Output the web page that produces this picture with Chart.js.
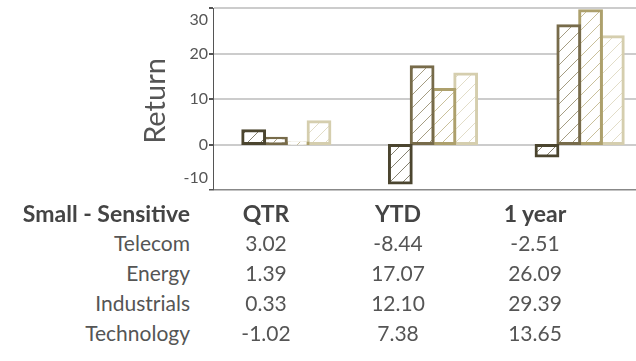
<!DOCTYPE html>
<html>
<head>
<meta charset="utf-8">
<script src="https://cdn.jsdelivr.net/npm/chart.js@4"></script>
<style>
  html, body { margin: 0; padding: 0; background: #fff; width: 636px; height: 361px; overflow: hidden; }
  #wrap { position: absolute; left: 0; top: 0; width: 660px; height: 200px; }
  .cell { position: absolute; height: 30px; line-height: 30px; font-family: Lato, "Open Sans", sans-serif; font-size: 21px; color: #555; white-space: nowrap; }
  .head { font-weight: bold; color: #444; font-size: 23px; }
</style>
</head>
<body>
<div id="wrap"><canvas id="chart"></canvas></div>
<div id="table"></div>
<script>
// Return by period for the Small - Sensitive sectors
const categories = ['QTR', 'YTD', '1 year'];
const telecom = [3.02, -8.44, -2.51];
const energy = [1.39, 17.07, 26.09];
const industrials = [0.33, 12.10, 29.39];
const benchmark = [5.0, 15.5, 23.7];
const technology = [-1.02, 7.38, 13.65];
const yTicks = [-10, 0, 10, 20, 30];
const tableTitle = 'Small - Sensitive';
const rowLabels = ['Telecom', 'Energy', 'Industrials', 'Technology'];
const rowValues = [telecom, energy, industrials, technology];

// diagonal hatch fill for the bars
function hatch(color) {
  const s = 13;
  const c = document.createElement('canvas');
  c.width = s; c.height = s;
  const g = c.getContext('2d');
  g.fillStyle = '#fff';
  g.fillRect(0, 0, s, s);
  g.strokeStyle = color;
  g.globalAlpha = 0.75;
  g.lineWidth = 1;
  g.beginPath();
  g.moveTo(0, s); g.lineTo(s, 0);
  g.moveTo(-2, 2); g.lineTo(2, -2);
  g.moveTo(s - 2, s + 2); g.lineTo(s + 2, s - 2);
  g.stroke();
  return g.createPattern(c, 'repeat');
}

const colors = ['#4b452f', '#776b4a', '#ada06c', '#d5ceae'];
const hatchColors = ['#5e5842', '#877c5a', '#b7ab7a', '#d8d2b5'];
const series = [
  ['Telecom', telecom],
  ['Energy', energy],
  ['Industrials', industrials],
  ['Benchmark', benchmark]
];

const axisLabels = {
  id: 'axisLabels',
  afterDraw(chart) {
    const s = chart.scales.y;
    const ctx = chart.ctx;
    ctx.save();
    ctx.fillStyle = '#555';
    ctx.font = '16px Lato, "Open Sans", sans-serif';
    ctx.textAlign = 'right';
    ctx.textBaseline = 'middle';
    yTicks.forEach(v => {
      let y = s.getPixelForValue(v);
      y = Math.min(Math.max(y, s.top + 12), s.bottom - 12);
      ctx.fillText(String(v), 208, y);
    });
    ctx.translate(156, 101);
    ctx.rotate(-Math.PI / 2);
    ctx.textAlign = 'center';
    ctx.font = '29px Lato, "Open Sans", sans-serif';
    ctx.fillText('Return', 0, 0);
    ctx.restore();
  }
};

new Chart(document.getElementById('chart'), {
  type: 'bar',
  data: {
    labels: categories,
    datasets: series.map(([label, data], i) => ({
      label,
      data,
      backgroundColor: hatch(hatchColors[i]),
      borderColor: colors[i],
      borderWidth: 3,
      borderSkipped: false,
      inflateAmount: 1.5,
      barPercentage: 1,
      categoryPercentage: 0.594
    }))
  },
  options: {
    responsive: true,
    maintainAspectRatio: false,
    animation: false,
    layout: { padding: { top: 8, bottom: 10, right: 7, left: 0 } },
    plugins: { legend: { display: false }, tooltip: { enabled: false } },
    scales: {
      x: { display: false },
      y: {
        min: -10,
        max: 30,
        afterFit(scale) { scale.width = 213; },
        afterBuildTicks(scale) { scale.ticks = yTicks.map(v => ({ value: v })); },
        ticks: { display: false },
        border: { color: '#555', width: 1 },
        grid: {
          color: ctx => ctx.tick && ctx.tick.value === -10 ? '#888' : '#ccc',
          lineWidth: ctx => ctx.tick && ctx.tick.value === -10 ? 1.5 : 2,
          tickColor: '#555',
          tickLength: 4
        }
      }
    }
  },
  plugins: [axisLabels]
});

// summary table under the chart
const table = document.getElementById('table');
const colCenters = [266, 398, 535];
const rowCenters = [213, 243, 273, 303, 333];
function cell(text, y, opts) {
  const d = document.createElement('div');
  d.className = 'cell' + (opts.head ? ' head' : '');
  d.textContent = text;
  d.style.top = (y - 15) + 'px';
  if (opts.right !== undefined) {
    d.style.left = '0px';
    d.style.width = opts.right + 'px';
    d.style.textAlign = 'right';
  } else {
    d.style.left = (opts.center - 60) + 'px';
    d.style.width = '120px';
    d.style.textAlign = 'center';
  }
  table.appendChild(d);
}
cell(tableTitle, rowCenters[0], { head: true, right: 190 });
categories.forEach((c, j) => cell(c, rowCenters[0], { head: true, center: colCenters[j] }));
rowLabels.forEach((r, i) => {
  cell(r, rowCenters[i + 1], { right: 190 });
  rowValues[i].forEach((v, j) => cell(v.toFixed(2), rowCenters[i + 1], { center: colCenters[j] }));
});
</script>
</body>
</html>
